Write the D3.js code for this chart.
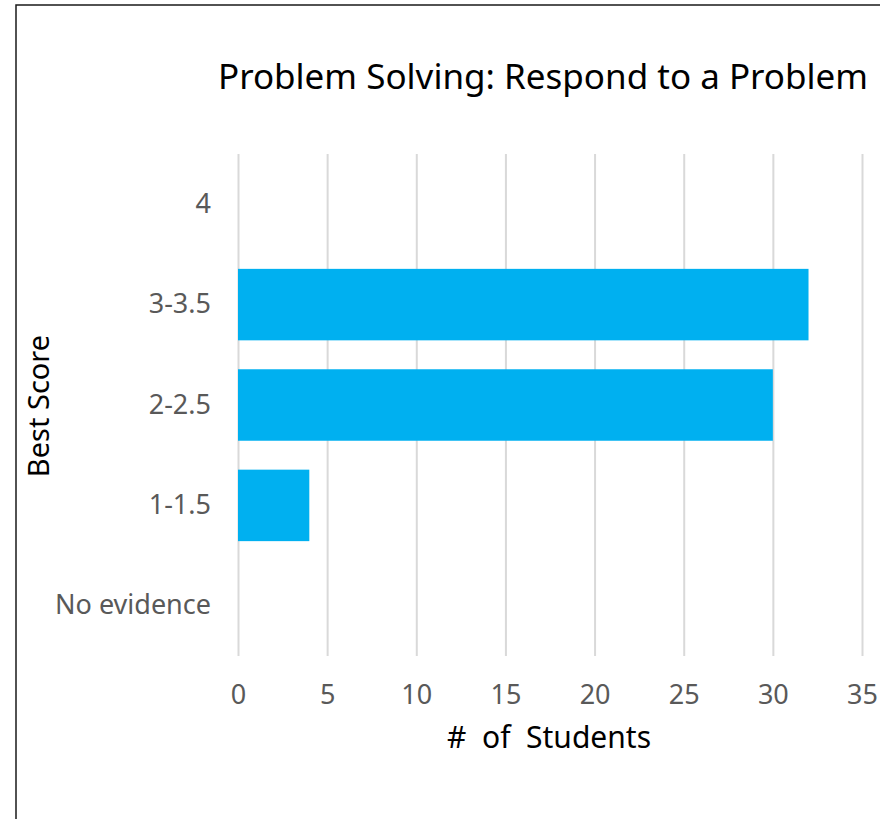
<!DOCTYPE html>
<html>
<head>
<meta charset="utf-8">
<script src="https://cdn.jsdelivr.net/npm/d3@7"></script>
<style>
  html, body { margin: 0; padding: 0; background: #fff; }
  svg { display: block; font-family: "Noto Sans", "Open Sans", sans-serif; }
  svg text { font-family: "Noto Sans", "Open Sans", sans-serif; }
</style>
</head>
<body>
<svg id="chart" width="880" height="819"></svg>
<script>
// Score bands, top to bottom, and the number of students in each
const categories = ["4", "3-3.5", "2-2.5", "1-1.5", "No evidence"];
const students = [0, 32, 30, 4, 0];
const xTicks = [0, 5, 10, 15, 20, 25, 30, 35];
const chartTitle = "Problem Solving: Respond to a Problem";
const xTitle = "#  of  Students";
const yTitle = "Best Score";

const svg = d3.select("#chart");

// outer frame of the chart object
svg.append("rect")
  .attr("x", 16).attr("y", 5)
  .attr("width", 900).attr("height", 850)
  .attr("fill", "#fff")
  .attr("stroke", "#1a1a1a")
  .attr("stroke-width", 1.5);

const plot = { left: 238, right: 862, top: 154, bottom: 656 };

const x = d3.scaleLinear().domain([0, 35]).range([plot.left, plot.right]);
const y = d3.scaleBand()
  .domain(categories)
  .range([plot.top, plot.bottom])
  .paddingInner(0.288)
  .paddingOuter(0.144);

// vertical gridlines and value labels
const xAxis = svg.append("g")
  .attr("transform", `translate(0,${plot.bottom})`)
  .call(d3.axisBottom(x).tickValues(xTicks).tickFormat(d3.format("d"))
    .tickSize(-(plot.bottom - plot.top)).tickPadding(0));
xAxis.select(".domain").remove();
xAxis.selectAll(".tick line").attr("stroke", "#d9d9d9").attr("stroke-width", 2);
xAxis.selectAll(".tick text")
  .attr("y", 48).attr("dy", 0)
  .attr("fill", "#595959")
  .style("font-size", "27px");

// bars
svg.append("g").selectAll("rect")
  .data(categories.map((c, i) => ({ c, v: students[i] })))
  .join("rect")
  .attr("x", x(0))
  .attr("y", d => y(d.c))
  .attr("width", d => x(d.v) - x(0))
  .attr("height", y.bandwidth())
  .attr("fill", "#00B0F0");

// category labels
const yAxis = svg.append("g")
  .attr("transform", `translate(${plot.left},0)`)
  .call(d3.axisLeft(y).tickSize(0).tickPadding(27));
yAxis.select(".domain").remove();
yAxis.selectAll(".tick text")
  .attr("fill", "#595959")
  .style("font-size", "27px");

// titles
svg.append("text")
  .attr("x", 543).attr("y", 89)
  .attr("text-anchor", "middle")
  .attr("fill", "#000")
  .style("font-size", "35px")
  .text(chartTitle);

svg.append("text")
  .attr("x", 549).attr("y", 748)
  .attr("text-anchor", "middle")
  .attr("fill", "#000")
  .style("font-size", "30px")
  .style("white-space", "pre")
  .text(xTitle);

svg.append("text")
  .attr("transform", "translate(49,406) rotate(-90)")
  .attr("text-anchor", "middle")
  .attr("fill", "#000")
  .style("font-size", "29px")
  .text(yTitle);
</script>
</body>
</html>
